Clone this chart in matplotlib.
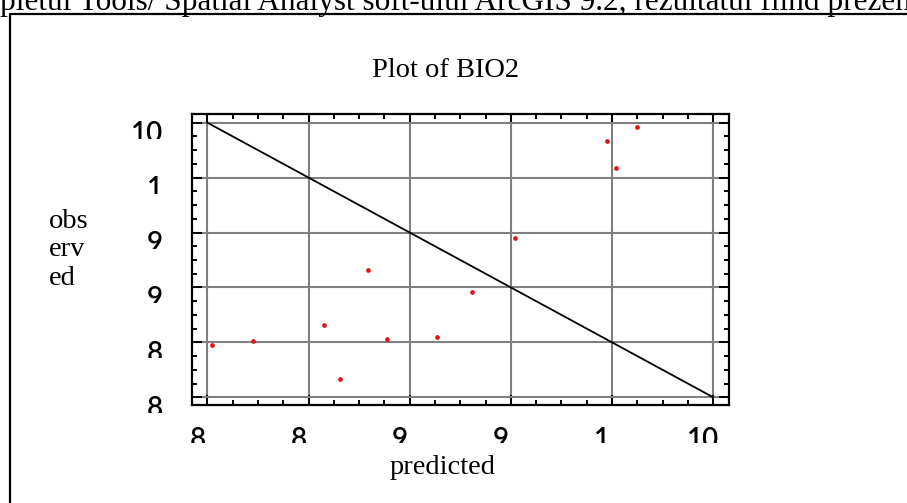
import matplotlib
matplotlib.use('Agg')
import matplotlib.pyplot as plt
from matplotlib.lines import Line2D
from matplotlib.transforms import Bbox, ScaledTranslation

# data
predicted = [80.22, 82.24, 85.77, 86.57, 87.93, 88.89, 91.33, 93.09, 95.20, 99.76, 100.19, 101.21]
observed = [84.79, 85.15, 86.58, 81.69, 91.59, 85.33, 85.46, 89.56, 94.50, 103.36, 100.90, 104.64]
diag_x = [80, 105]
diag_y = [105, 80]
tick_values = [80, 85, 90, 95, 100, 105]
x_tick_labels = ['8', '8', '9', '9', '1', '10']
y_tick_labels = ['8', '8', '9', '9', '1', '10']
page_text = 'pletul Tools/ Spatial Analyst soft-ului ArcGIS 9.2, rezultatul fiind prezentat'

W, H = 907, 503
serif = 'Liberation Serif'
tick_font = 'Lato'

fig = plt.figure(figsize=(W / 100, H / 100), dpi=100)
ax = fig.add_axes([192 / W, 1 - 405 / H, (729 - 192) / W, (405 - 114) / H])

ax.set_xlim(79.24, 105.78)
ax.set_ylim(79.30, 105.79)

ax.plot(diag_x, diag_y, color='black', linewidth=1.3, zorder=2)
ax.plot(predicted, observed, 'o', color='#e3121b', markersize=3.4, markeredgewidth=0, zorder=3)

ax.set_xticks(tick_values)
ax.set_yticks(tick_values)
ax.set_xticks([v + d for v in tick_values[:-1] for d in (1.25, 2.5, 3.75)], minor=True)
ax.set_yticks([v + d for v in tick_values[:-1] for d in (1.25, 2.5, 3.75)], minor=True)
ax.set_xticklabels(x_tick_labels)
ax.set_yticklabels(y_tick_labels)
ax.grid(True, which='major', color='#808080', linewidth=1.5)

ax.tick_params(which='both', direction='in', top=True, right=True, width=1.4, color='black')
ax.tick_params(which='major', length=7)
ax.tick_params(which='minor', length=3.5)
ax.tick_params(axis='x', which='major', pad=16, labelsize=20)
ax.tick_params(axis='y', which='major', pad=21, labelsize=20)
for sp in ax.spines.values():
    sp.set_linewidth(1.6)

# labels in the original are shifted and cut at the bottom
for lab in ax.get_xticklabels():
    lab.set_family(tick_font)
    lab.set_weight('semibold')
    lab.set_transform(lab.get_transform() + ScaledTranslation(-10 / 100, 0, fig.dpi_scale_trans))
    lab.set_clip_box(Bbox.from_extents(0, H - 443, W, H - 415))
    lab.set_clip_on(True)
for lab, v in zip(ax.get_yticklabels(), tick_values):
    lab.set_family(tick_font)
    lab.set_weight('semibold')
    lab.set_transform(lab.get_transform() + ScaledTranslation(0, -9 / 100, fig.dpi_scale_trans))
    gy = ax.transData.transform((80, v))[1]
    lab.set_clip_box(Bbox.from_extents(0, gy - 16, W, gy + 20))
    lab.set_clip_on(True)

ax.set_title('Plot of BIO2', fontsize=20.5, family=serif, x=(445.8 - 192) / 537, y=(405 - 76.7) / 291, pad=0)
ax.set_xlabel('predicted', fontsize=20.5, family=serif, va='top')
ax.xaxis.set_label_coords((442.5 - 192) / 537, (405 - 455) / 291)
ax.set_ylabel('obs\nerv\ned', fontsize=20.5, family=serif, rotation=0,
              ha='left', va='center', multialignment='left', linespacing=1.2)
ax.yaxis.set_label_coords((49.3 - 192) / 537, (405 - 250) / 291)

# page fragment and frame around the chart
fig.text(0, 1 - 10 / H, page_text, fontsize=22.5, family=serif, va='baseline')
fig.add_artist(Line2D([10 / W, 10 / W, 1.01], [-0.01, 1 - 14 / H, 1 - 14 / H],
                      transform=fig.transFigure, color='black', linewidth=1.6))

fig.savefig('out.png', dpi=100)
